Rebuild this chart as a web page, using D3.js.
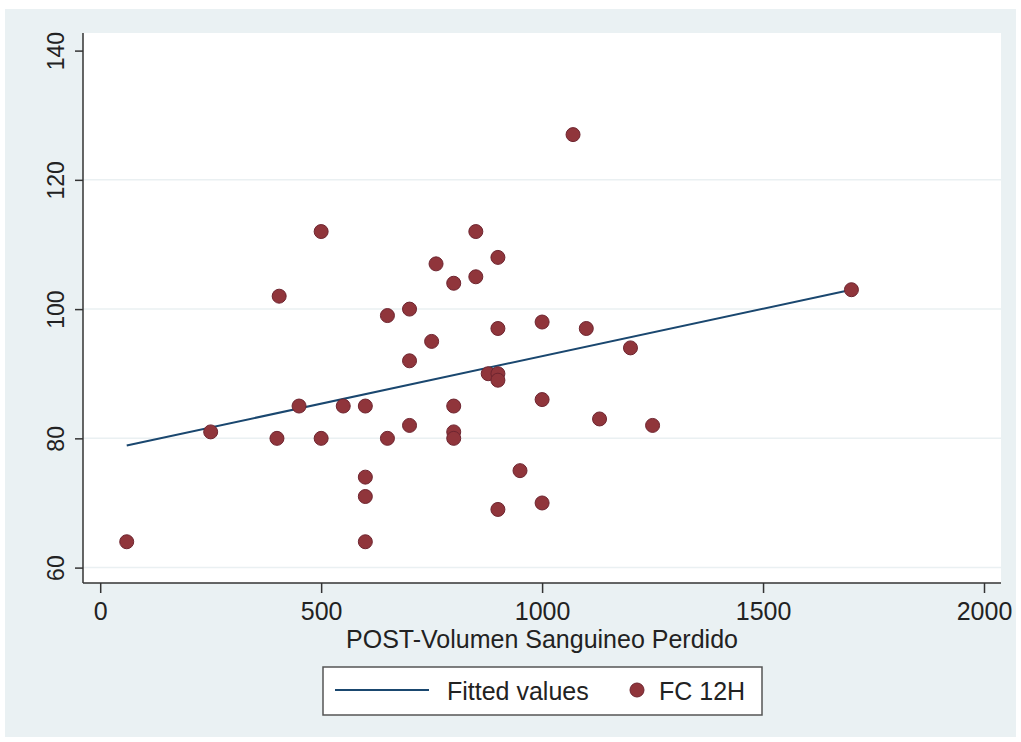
<!DOCTYPE html>
<html>
<head>
<meta charset="utf-8">
<script src="https://cdn.jsdelivr.net/npm/d3@7"></script>
<style>
  html, body { margin: 0; padding: 0; background: #ffffff; }
  svg { display: block; font-family: "Liberation Sans", Arial, sans-serif; }
</style>
</head>
<body>
<svg id="chart" width="1021" height="742"></svg>
<script>
// ---- data ----
const volumen = [60, 250, 400, 405, 450, 500, 500, 550, 600, 600, 600, 600, 650, 650, 700, 700, 700, 750, 760, 800, 800, 800, 800, 850, 850, 878, 900, 900, 900, 900, 900, 950, 1000, 1000, 1000, 1070, 1100, 1130, 1200, 1250, 1700];
const fc12h   = [64, 81, 80, 102, 85, 80, 112, 85, 85, 74, 71, 64, 99, 80, 100, 92, 82, 95, 107, 104, 85, 81, 80, 112, 105, 90, 90, 89, 108, 97, 69, 75, 98, 86, 70, 127, 97, 83, 94, 82, 103];
const fitX = [60, 1700];
const fitY = [78.9, 103.0];
const xTicks = [0, 500, 1000, 1500, 2000];
const yTicks = [60, 80, 100, 120, 140];
const yGrid = [60, 80, 100, 120];
const xTitle = "POST-Volumen Sanguineo Perdido";
const legendLabels = ["Fitted values", "FC 12H"];

// ---- layout ----
const svg = d3.select("#chart");
const bgColor = "#eaf1f3";
const navy = "#1a476f";
const maroon = "#90353b";
const textColor = "#222";

const plot = { left: 83, right: 1001, top: 33, bottom: 583 };

const x = d3.scaleLinear().domain([0, 2000]).range([100.2, 984]);
const y = d3.scaleLinear().domain([60, 140]).range([567.6, 50.6]);

// outer graph region
svg.append("rect").attr("x", 5).attr("y", 9).attr("width", 1011).attr("height", 728)
  .attr("fill", bgColor);

// plot region
svg.append("rect").attr("x", plot.left).attr("y", plot.top)
  .attr("width", plot.right - plot.left).attr("height", plot.bottom - plot.top)
  .attr("fill", "#ffffff");

// gridlines
svg.append("g").selectAll("line").data(yGrid).join("line")
  .attr("x1", plot.left).attr("x2", plot.right)
  .attr("y1", d => y(d)).attr("y2", d => y(d))
  .attr("stroke", "#eaf0f2").attr("stroke-width", 1.5);

// y axis
const yAxis = d3.axisLeft(y).tickValues(yTicks).tickSize(8).tickPadding(11).tickFormat(d3.format("d"));
const gy = svg.append("g").attr("transform", `translate(${plot.left},0)`).call(yAxis);
gy.select(".domain").remove();
gy.append("line").attr("x1", 0).attr("x2", 0).attr("y1", plot.top).attr("y2", plot.bottom)
  .attr("stroke", "#333").attr("stroke-width", 1.5);
gy.selectAll(".tick line").attr("stroke", "#333").attr("stroke-width", 1.5);
gy.selectAll(".tick text")
  .attr("fill", textColor).attr("font-size", 23)
  .attr("text-anchor", "middle")
  .attr("x", null).attr("dy", null)
  .attr("transform", "translate(-19,0) rotate(-90)")
  .attr("y", 0);

// x axis
const xAxis = d3.axisBottom(x).tickValues(xTicks).tickSize(10).tickPadding(10).tickFormat(d3.format("d"));
const gx = svg.append("g").attr("transform", `translate(0,${plot.bottom})`).call(xAxis);
gx.select(".domain").remove();
gx.append("line").attr("x1", plot.left).attr("x2", plot.right).attr("y1", 0).attr("y2", 0)
  .attr("stroke", "#333").attr("stroke-width", 1.5);
gx.selectAll(".tick line").attr("stroke", "#333").attr("stroke-width", 1.5);
gx.selectAll(".tick text").attr("fill", textColor).attr("font-size", 25)
  .attr("dy", null).attr("y", 37);

// x title
svg.append("text").attr("x", 542).attr("y", 648).attr("text-anchor", "middle")
  .attr("font-size", 25).attr("fill", textColor).text(xTitle);

// fitted line
const pts = volumen.map((v, i) => ({ x: v, y: fc12h[i] }));
const fitPts = fitX.map((v, i) => ({ x: v, y: fitY[i] }));
svg.append("path").datum(fitPts)
  .attr("d", d3.line().x(d => x(d.x)).y(d => y(d.y)))
  .attr("fill", "none").attr("stroke", navy).attr("stroke-width", 2);

// points
svg.append("g").selectAll("circle").data(pts).join("circle")
  .attr("cx", d => x(d.x)).attr("cy", d => y(d.y)).attr("r", 7)
  .attr("fill", maroon).attr("stroke", "#6e2530").attr("stroke-width", 1);

// legend
const lg = svg.append("g");
lg.append("rect").attr("x", 323).attr("y", 667).attr("width", 439).attr("height", 48)
  .attr("fill", "#ffffff").attr("stroke", "#555").attr("stroke-width", 1.5);
lg.append("line").attr("x1", 335).attr("x2", 429).attr("y1", 690).attr("y2", 690)
  .attr("stroke", navy).attr("stroke-width", 2);
lg.append("text").attr("x", 447).attr("y", 700).attr("font-size", 25).attr("fill", textColor)
  .text(legendLabels[0]);
lg.append("circle").attr("cx", 637).attr("cy", 690).attr("r", 7)
  .attr("fill", maroon).attr("stroke", "#6e2530").attr("stroke-width", 1);
lg.append("text").attr("x", 659).attr("y", 700).attr("font-size", 25).attr("fill", textColor)
  .text(legendLabels[1]);
</script>
</body>
</html>
